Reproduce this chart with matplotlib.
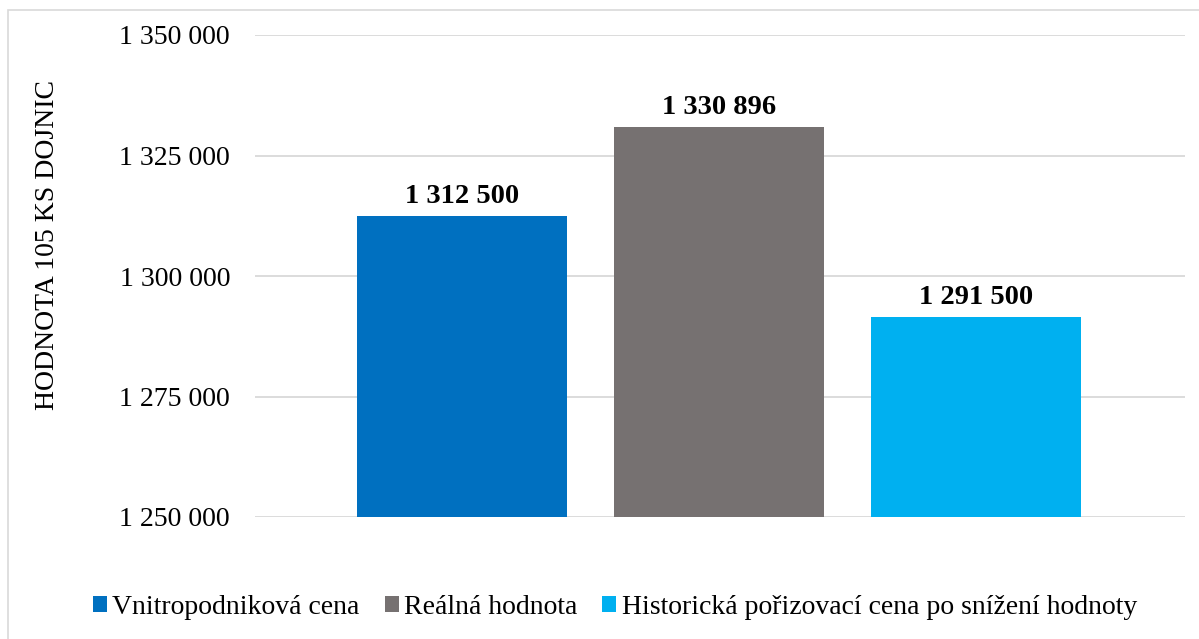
import matplotlib
matplotlib.use("Agg")
import matplotlib.pyplot as plt
from matplotlib.patches import Rectangle
import matplotlib.ticker as mticker

series = ["Vnitropodniková cena", "Reálná hodnota", "Historická pořizovací cena po snížení hodnoty"]
values = [1312500, 1330896, 1291500]
colors = ["#0070C0", "#767171", "#00B0F0"]
yticks = [1250000, 1275000, 1300000, 1325000, 1350000]
ylabel = "HODNOTA 105 KS DOJNIC"

plt.rcParams['font.family'] = ['Liberation Serif', 'DejaVu Serif']

W, H = 1199, 639
fig = plt.figure(figsize=(W/100, H/100), dpi=100)
fig.patches.append(Rectangle((8/W, -0.1), 1.2, 1 - 10/H + 0.1, transform=fig.transFigure,
                             fill=False, edgecolor="#D9D9D9", linewidth=1.2))

ax = fig.add_axes([255/W, 1 - 517/H, (1185-255)/W, (517-35)/H])
xs = list(range(len(series)))
bw = 210/257
bars = []
for x, v, c, s in zip(xs, values, colors, series):
    b = ax.bar(x, v, width=bw, color=c, label=s, zorder=3)
    bars.append(b)
    ax.text(x, v + 1500, f"{v:,}".replace(",", " "), ha="center", va="bottom",
            fontsize=20.5, fontweight="bold", color="black")

ax.set_ylim(1250000, 1350000)
ax.set_xlim((255-462)/257, (1185-462)/257)
ax.set_yticks(yticks)
ax.yaxis.set_major_formatter(mticker.FuncFormatter(lambda v, p: f"{int(v):,}".replace(",", " ")))
ax.tick_params(axis="y", length=0, pad=18, labelsize=20)
ax.set_xticks([])
for sp in ax.spines.values():
    sp.set_visible(False)
ax.grid(axis="y", color="#D9D9D9", linewidth=1.3, zorder=0)
ax.set_axisbelow(True)

fig.text(48/W, 1 - 245/H, ylabel, rotation=90, ha="center", va="center", fontsize=20)

fig.legend(handles=[b[0] for b in bars], labels=series, loc="center",
           bbox_to_anchor=(615/W, 1 - 607/H), ncol=3, frameon=False, fontsize=20,
           handlelength=0.5, handleheight=0.5, handletextpad=0.2, columnspacing=0.9)

fig.savefig("out.png", dpi=100)
